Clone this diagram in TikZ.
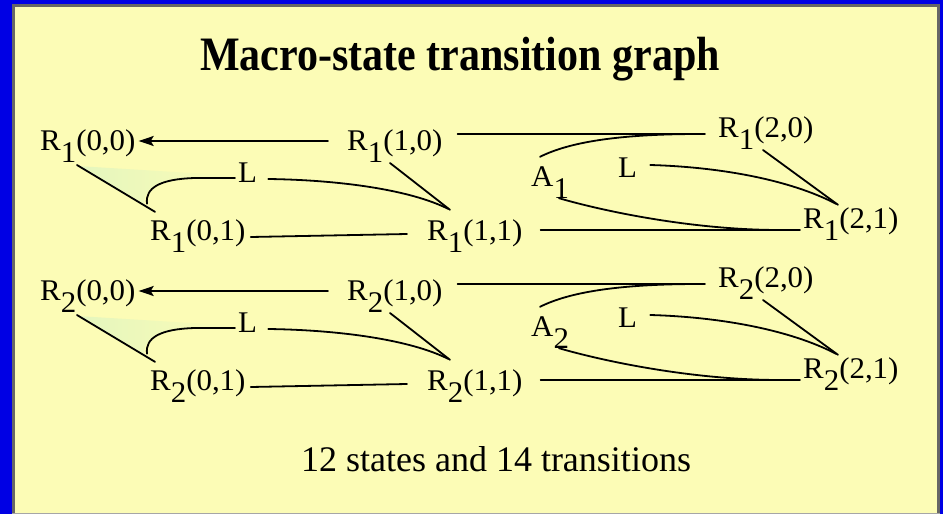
\documentclass[tikz,border=0pt]{standalone}
\usepackage{fontspec}
\setmainfont{Liberation Serif}
\usetikzlibrary{arrows.meta,calc}
\definecolor{bgblue}{RGB}{0,0,228}
\definecolor{panel}{RGB}{252,252,182}
\definecolor{pgreen}{RGB}{228,246,190}
\newcommand\dn[1]{\raisebox{-12pt}{#1}}
\newcommand\lab[1]{\scalebox{1.03}[1]{#1}}
\begin{document}
\begin{tikzpicture}[x=1pt,y=-1pt,
  lbl/.style={inner sep=0pt, anchor=base west, text height=18pt, text depth=0pt,
              font=\fontsize{30}{30}\selectfont},
  edge/.style={line width=1.8pt, line cap=round},
  tip/.style={-{Stealth[length=15pt,width=10pt,inset=3pt]}}]
\useasboundingbox (0,0) rectangle (943,514);
\fill[bgblue] (0,0) rectangle (943,514);
\fill[panel] (12,4) rectangle (940,514);
\draw[line width=3pt, black!60] (13.5,514) -- (13.5,5.5) -- (938.5,5.5) -- (938.5,514);
\draw[line width=1.5pt, black!35] (12,513.3) -- (940,513.3);

\node[anchor=base, inner sep=0pt, font=\fontsize{48}{48}\selectfont\bfseries] (title) at (460,70)
  {\scalebox{0.875}[1]{Macro-state transition graph}};

\foreach \rw/\dy in {1/0,2/150}{
\begin{scope}[shift={(0,\dy)}]
  % shaded area
  \shade[left color=pgreen, right color=panel] (77,166) -- (144,205)
     .. controls (143,188) and (160,179) .. (195,178) -- (240,176) -- cycle;
  % nodes
  \node[lbl] (r\rw00) at (40,150) {\lab{R\dn{\rw}(0,0)}};
  \node[lbl] (r\rw10) at (347,150) {\lab{R\dn{\rw}(1,0)}};
  \node[lbl] (r\rw20) at (718,137) {\lab{R\dn{\rw}(2,0)}};
  \node[lbl] (r\rw01) at (150,240) {\lab{R\dn{\rw}(0,1)}};
  \node[lbl] (r\rw11) at (427,240) {\lab{R\dn{\rw}(1,1)}};
  \node[lbl] (r\rw21) at (803,228) {\lab{R\dn{\rw}(2,1)}};
  \node[lbl] (a\rw) at (531,186) {\lab{A\dn{\rw}}};
  \node[lbl] (ll\rw) at (238,182) {\lab{L}};
  \node[lbl] (lr\rw) at (618,177) {\lab{L}};
  % edges
  \draw[edge,tip] ($(r\rw10.west)+(-19,0)$) -- ($(r\rw00.east)+(3,0)$);
  \draw[edge] ($(r\rw10.east)+(15,-7)$) -- ($(r\rw20.west)+(-13,6)$);
  \draw[edge] ($(a\rw.north west)+(9,-11)$) .. controls +(30,-15) and +(-80,0) .. ($(r\rw20.west)+(-18,6)$);
  \draw[edge] ($(a\rw.south west)+(28,12)$) .. controls +(41,12) and +(-90,0) .. ($(r\rw21.west)+(-23,11)$);
  \draw[edge] ($(r\rw11.east)+(18,-1)$) -- ($(r\rw21.west)+(-3,11)$);
  \draw[edge] ($(r\rw20.base west)+(45,13)$) -- ($(r\rw21.north west)+(35,-5)$);
  \draw[edge] ($(lr\rw.east)+(13,-3)$) .. controls +(70,2) and +(-46,-24) .. ($(r\rw21.north west)+(33,-6)$);
  \draw[edge] ($(r\rw00.base west)+(37,15)$) -- ($(r\rw01.north west)+(5,-10)$);
  \draw[edge] ($(ll\rw.west)+(-3,5)$) -- ++(-40,0) .. controls +(-35,1) and +(-2,-16) .. ($(r\rw01.north west)+(-3,-18)$);
  \draw[edge] ($(ll\rw.east)+(11,6)$) .. controls +(72,1) and +(-38,-19) .. ($(r\rw11.north west)+(21,-13)$);
  \draw[edge] ($(r\rw10.base west)+(43,13)$) -- ($(r\rw11.north west)+(23,-12)$);
  \draw[edge] ($(r\rw01.east)+(5,6)$) -- ($(r\rw11.west)+(-20,3)$);
\end{scope}
}

\node[anchor=base, inner sep=0pt, font=\fontsize{36}{36}\selectfont] (foot) at (496,471)
  {12 states and 14 transitions};
\end{tikzpicture}
\end{document}
